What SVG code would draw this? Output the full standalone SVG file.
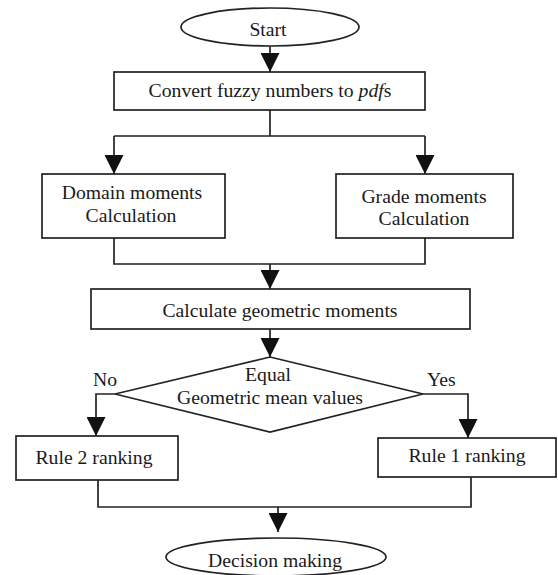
<svg xmlns="http://www.w3.org/2000/svg" width="558" height="575" viewBox="0 0 558 575">
<style>
.n{fill:#fff;stroke:#222;stroke-width:1.7}
.c{fill:none;stroke:#222;stroke-width:1.7}
text{font-family:"Liberation Serif","Times New Roman",serif;font-size:19.7px;fill:#1a1a1a;text-anchor:middle}
.l{text-anchor:start}
</style>
<defs>
<marker id="ah" viewBox="0 0 19 19" refX="19" refY="9.5" markerWidth="19" markerHeight="19" markerUnits="userSpaceOnUse" orient="auto">
<path d="M0,0 L19,9.5 L0,19 z" fill="#111"/>
</marker>
</defs>
<g id="connectors">
<path class="c" d="M270,46 V72" marker-end="url(#ah)"/>
<path class="c" d="M270,110 V136 M114,136 H425"/>
<path class="c" d="M114,136 V174" marker-end="url(#ah)"/>
<path class="c" d="M425,136 V174" marker-end="url(#ah)"/>
<path class="c" d="M114,238 V264 H425 V238"/>
<path class="c" d="M270,264 V289" marker-end="url(#ah)"/>
<path class="c" d="M270,329 V357" marker-end="url(#ah)"/>
<path class="c" d="M115,394 H96 V436" marker-end="url(#ah)"/>
<path class="c" d="M423,394 H468 V438" marker-end="url(#ah)"/>
<path class="c" d="M98,480 V507 H471 V477"/>
<path class="c" d="M278,507 V532" marker-end="url(#ah)"/>
</g>
<g id="start">
<ellipse class="n" cx="270" cy="27" rx="89" ry="19"/>
<text x="268" y="36">Start</text>
</g>
<g id="convert">
<rect class="n" x="114" y="72" width="311" height="38"/>
<text x="270" y="97">Convert fuzzy numbers to <tspan font-style="italic">pdf</tspan>s</text>
</g>
<g id="domain">
<rect class="n" x="42" y="174" width="183" height="64"/>
<text x="132" y="199">Domain moments</text>
<text x="131" y="222">Calculation</text>
</g>
<g id="grade">
<rect class="n" x="336" y="174" width="177" height="64"/>
<text x="424" y="203">Grade moments</text>
<text x="424" y="225">Calculation</text>
</g>
<g id="calc">
<rect class="n" x="91" y="289" width="379" height="40"/>
<text x="280" y="317">Calculate geometric moments</text>
</g>
<g id="decision">
<polygon class="n" points="270,357 423,394 270,432 115,394"/>
<text x="268" y="381">Equal</text>
<text x="270" y="404">Geometric mean values</text>
</g>
<g id="labels">
<text class="l" x="93" y="386">No</text>
<text class="l" x="427" y="386">Yes</text>
</g>
<g id="rule2">
<rect class="n" x="16" y="436" width="162" height="44"/>
<text x="94" y="464">Rule 2 ranking</text>
</g>
<g id="rule1">
<rect class="n" x="378" y="438" width="178" height="39"/>
<text x="467" y="462">Rule 1 ranking</text>
</g>
<g id="end">
<ellipse class="n" cx="276" cy="557" rx="110" ry="19"/>
<text x="275" y="567">Decision making</text>
</g>
</svg>
